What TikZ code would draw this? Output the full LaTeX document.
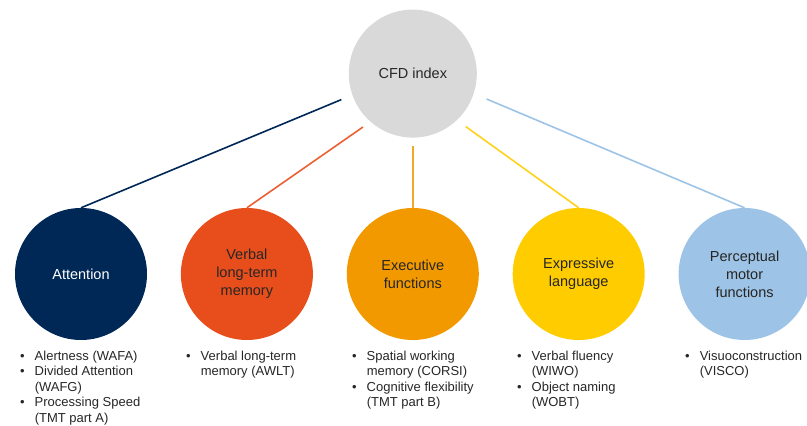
\documentclass[tikz,border=0pt]{standalone}
\usepackage{fontspec}
\setmainfont{Liberation Sans}
\usepackage{xcolor}
\usetikzlibrary{positioning, calc}
\definecolor{cfdgray}{RGB}{217, 217, 217}
\definecolor{attblue}{RGB}{0, 40, 87}
\definecolor{vlmred}{RGB}{232, 78, 27}
\definecolor{exforange}{RGB}{242, 153, 0}
\definecolor{exlyellow}{RGB}{255, 204, 0}
\definecolor{pmfblue}{RGB}{157, 195, 230}
\definecolor{txtgray}{RGB}{38, 38, 38}
\newcommand{\bulletlist}[1]{\begin{tabular}{@{}l@{\hspace{10pt}}l@{}}#1\end{tabular}}
\tikzset{
  facet/.style={
    circle, minimum size=132pt, inner sep=0pt,
    align=center, text=txtgray,
    font=\fontsize{14.5}{18}\selectfont,
  },
  items/.style={anchor=north west, inner sep=0pt, text=txtgray,
    font=\fontsize{13}{15.5}\selectfont},
  link/.style={line width=1.6pt},
}

\begin{document}
\begin{tikzpicture}[x=1pt, y=1pt, node distance=33.5pt]
\useasboundingbox (0,0) rectangle (807,426);

\node[facet, fill=attblue, text=white] (att) at (81,152) {Attention};
\node[facet, fill=vlmred, right=of att] (vlm) {Verbal\\long-term\\memory};
\node[facet, fill=exforange, right=of vlm] (exf) {Executive\\functions};
\node[facet, fill=exlyellow, right=of exf] (exl) {Expressive\\language};
\node[facet, fill=pmfblue, right=of exl] (pmf) {Perceptual\\motor\\functions};
\node[facet, fill=cfdgray, minimum size=128pt, above=70pt of exf] (cfd) {CFD index};

\foreach \n/\a/\r/\c in {att/200/76/attblue, vlm/227/73/vlmred!90!white,
    exf/270/72/exforange!85!white, exl/-45/75/exlyellow!90!white,
    pmf/-19/78/pmfblue} {
  \coordinate (\n-end) at ($(cfd.center)+(\a:\r)$);
  \draw[link, draw=\c] (\n.north) -- (\n-end);
}

\node[items] (att-list) at (20,77) {\bulletlist{
  \textbullet & Alertness (WAFA)\\
  \textbullet & Divided Attention\\
              & (WAFG)\\
  \textbullet & Processing Speed\\
              & (TMT part A)}};
\node[items] (vlm-list) at (186,77) {\bulletlist{
  \textbullet & Verbal long-term\\
              & memory (AWLT)}};
\node[items] (exf-list) at (352,77) {\bulletlist{
  \textbullet & Spatial working\\
              & memory (CORSI)\\
  \textbullet & Cognitive flexibility\\
              & (TMT part B)}};
\node[items] (exl-list) at (517,77) {\bulletlist{
  \textbullet & Verbal fluency\\
              & (WIWO)\\
  \textbullet & Object naming\\
              & (WOBT)}};
\node[items] (pmf-list) at (685,77) {\bulletlist{
  \textbullet & Visuoconstruction\\
              & (VISCO)}};

\end{tikzpicture}
\end{document}
